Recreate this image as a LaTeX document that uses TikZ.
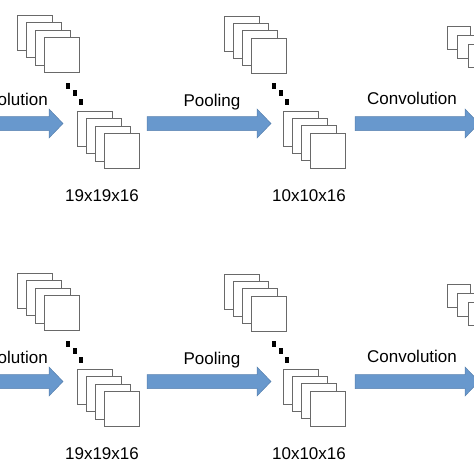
\documentclass[tikz,border=0pt]{standalone}
\usepackage{fontspec}
\setmainfont{Liberation Sans}

\definecolor{arrowblue}{RGB}{104,152,205}
\definecolor{mapgray}{RGB}{105,105,105}

\tikzset{
	fmap/.style={draw=mapgray, fill=white, line width=0.9pt},
	blockarrow/.style={fill=arrowblue, draw=arrowblue!85!black, line width=0.5pt},
	lbl/.style={font=\fontsize{17}{20}\selectfont, inner sep=0pt},
	pics/maps/.style n args={3}{code={
		\draw[fmap] (0,0) rectangle ++(#1,#1);
		\draw[fmap] (#2,#3) rectangle ++(#1,#1);
		\draw[fmap] (2*#2,2*#3) rectangle ++(#1,#1);
		\draw[fmap] (3*#2,3*#3) rectangle ++(#1,#1);
	}},
	pics/dots/.style={code={
		\fill (-11.5,-28) rectangle ++(4,6);
		\fill (-4.5,-21) rectangle ++(4,6);
		\fill (2,-12.5) rectangle ++(4,6);
	}},
	pics/flow/.style={code={
		\draw[blockarrow] (0,-7) -- (110,-7) -- (110,-14.5) -- (124,0)
		  -- (110,14.5) -- (110,7) -- (0,7) -- cycle;
	}},
	pics/row/.style={code={
		\pic at (17,15) {maps={35}{9}{7.5}};
		\pic at (77,111) {maps={35}{9}{7.5}};
		\pic at (77,111) {dots};
		\pic at (224,16) {maps={35}{9}{7.4}};
		\pic at (283,111) {maps={35}{9.3}{7.4}};
		\pic at (283,111) {dots};
		\pic at (447,26) {maps={23}{10.5}{9}};
		\pic at (-61,123.5) {flow};
		\pic at (147,123.5) {flow};
		\pic at (355,123.5) {flow};
		\node[lbl, anchor=base east] (-conv1) at (48,105) {Convolution};
		\node[lbl, anchor=base] (-pool) at (212,106) {Pooling};
		\node[lbl, anchor=base] (-conv2) at (412,104) {Convolution};
		\node[lbl, anchor=base] (-dim1) at (102,201) {19x19x16};
		\node[lbl, anchor=base] (-dim2) at (309,201) {10x10x16};
	}}
}

\begin{document}
\begin{tikzpicture}[x=1pt, y=-1pt]
	\useasboundingbox (0,0) rectangle (474,474);
	\pic (top) at (0,0) {row};
	\pic (bottom) at (0,258) {row};
\end{tikzpicture}
\end{document}
